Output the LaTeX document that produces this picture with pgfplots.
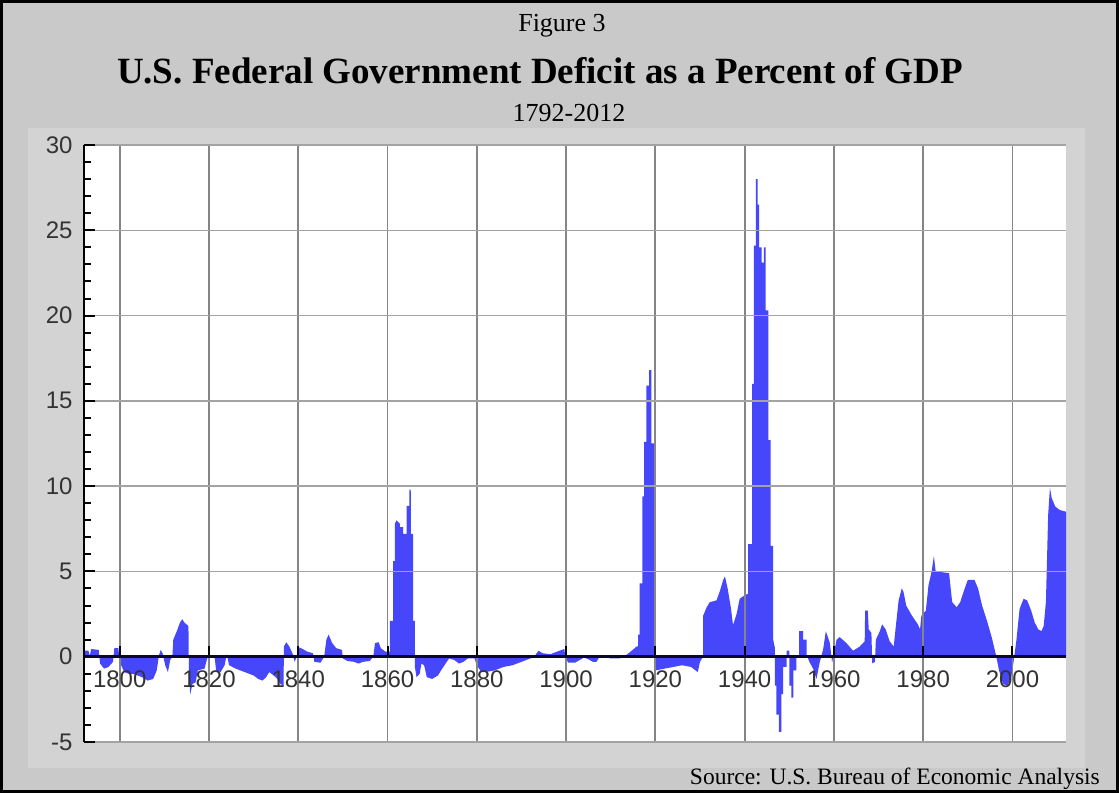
\documentclass[border=0pt]{standalone}
\usepackage{fontspec}
\setmainfont{Liberation Sans}
\newfontfamily\serif{Liberation Serif}
\usepackage{pgfplots}
\pgfplotsset{compat=1.18}
\usepackage{pgfplotstable}

\definecolor{deficit}{RGB}{70,70,250}
\definecolor{outergray}{RGB}{201,201,201}
\definecolor{panelgray}{RGB}{211,211,211}
\definecolor{zeroline}{RGB}{10,10,40}

% deficit as % of GDP (fractional years where the steps fall)
\pgfplotstableread{
year pct
1792.0 0.35
1793.0 0.35
1793.3 0.05
1793.6 0.45
1795.3 0.4
1795.6 -0.4
1796.5 -0.7
1797.5 -0.6
1798.5 -0.3
1798.8 0.5
1799.7 0.5
1800.0 -0.3
1801.0 -0.9
1802.0 -1.0
1803.0 -1.0
1804.0 -1.1
1805.0 -1.2
1806.3 -1.4
1807.5 -1.3
1808.3 -0.8
1808.8 0.1
1809.2 0.4
1809.6 0.2
1810.2 -0.5
1810.8 -0.9
1811.3 -0.2
1811.8 0.0
1812.0 1.0
1812.8 1.5
1813.5 2.0
1814.0 2.2
1814.5 2.0
1815.4 1.8
1815.5 -1.0
1815.8 -2.2
1816.3 -1.6
1817.0 -1.5
1817.5 -0.8
1819.0 -0.7
1819.6 -0.1
1820.5 0.1
1821.3 -0.1
1821.6 -0.8
1822.6 -0.9
1823.5 -0.5
1824.0 0.15
1824.5 -0.5
1826.0 -0.7
1828.0 -0.9
1830.0 -1.1
1831.0 -1.3
1832.0 -1.4
1832.8 -1.2
1833.5 -0.9
1834.5 -1.1
1835.3 -1.3
1836.0 -1.6
1836.7 -1.7
1836.8 0.6
1837.3 0.85
1838.0 0.6
1838.7 0.2
1839.2 -0.3
1839.8 0.1
1840.2 0.55
1841.0 0.45
1842.0 0.3
1843.3 0.2
1843.6 -0.3
1845.0 -0.35
1845.8 0.0
1846.3 1.0
1846.8 1.3
1847.6 0.8
1848.5 0.5
1849.8 0.4
1850.0 -0.1
1851.0 -0.25
1852.5 -0.3
1853.5 -0.4
1854.5 -0.3
1856.0 -0.25
1856.8 0.0
1857.2 0.8
1858.0 0.85
1858.5 0.5
1859.5 0.3
1860.5 0.3
1860.5 2.1
1861.27 2.1
1861.27 5.6
1861.65 5.6
1861.65 7.8
1862.0 8.0
1862.77 7.8
1862.77 7.6
1863.5 7.6
1863.5 7.2
1864.27 7.2
1864.27 8.85
1864.87 8.85
1864.87 9.8
1865.2 9.8
1865.24 7.2
1865.76 7.2
1865.76 2.1
1866.13 2.1
1866.13 -0.6
1866.5 -1.2
1867.2 -1.0
1867.6 -0.4
1868.2 -0.5
1868.8 -1.2
1870.0 -1.3
1871.3 -1.1
1872.0 -0.8
1873.0 -0.4
1873.8 -0.1
1875.0 -0.2
1876.0 -0.4
1877.0 -0.3
1878.0 -0.1
1879.5 -0.1
1880.0 -0.5
1881.0 -0.9
1882.0 -0.9
1884.0 -0.8
1886.0 -0.6
1888.0 -0.5
1890.0 -0.3
1892.0 -0.1
1893.0 0.05
1893.8 0.35
1894.8 0.2
1896.5 0.15
1898.5 0.35
1899.6 0.45
1899.9 -0.1
1900.5 -0.35
1902.0 -0.35
1903.0 -0.2
1904.0 -0.05
1905.0 -0.15
1906.0 -0.3
1906.8 -0.3
1907.5 0.0
1909.0 -0.05
1910.0 -0.1
1912.0 -0.1
1913.0 0.0
1913.5 0.1
1914.7 0.35
1915.8 0.6
1916.15 0.6
1916.15 1.3
1916.5 1.3
1916.5 4.3
1917.1 4.3
1917.1 9.4
1917.5 9.4
1917.5 12.6
1918.0 12.6
1918.0 15.9
1918.6 15.9
1918.6 16.8
1919.1 16.8
1919.1 12.5
1919.9 12.5
1919.9 0.6
1920.1 0.6
1920.1 -0.8
1922.0 -0.7
1924.0 -0.6
1926.0 -0.5
1928.0 -0.6
1929.5 -0.9
1930.0 -0.3
1930.7 0.0
1930.7 2.4
1931.5 2.9
1932.2 3.2
1933.7 3.3
1934.4 3.8
1935.2 4.5
1935.6 4.7
1936.2 4.0
1936.9 2.9
1937.4 1.85
1938.2 2.5
1938.9 3.4
1940.0 3.6
1940.8 3.7
1940.8 6.6
1941.7 6.6
1941.7 16.0
1942.1 16.0
1942.1 24.1
1942.5 24.1
1942.5 28.0
1942.9 28.0
1942.9 26.5
1943.25 26.5
1943.25 24.0
1943.8 24.0
1943.8 23.1
1944.3 23.1
1944.3 24.0
1944.7 24.0
1944.7 20.3
1945.3 20.3
1945.3 12.7
1945.8 12.7
1945.8 6.5
1946.4 6.5
1946.4 1.0
1946.8 0.5
1946.8 -1.7
1947.1 -1.7
1947.1 -3.4
1947.7 -3.4
1947.7 -4.4
1948.25 -4.4
1948.25 -2.2
1948.6 -2.2
1948.6 -0.6
1949.4 -0.6
1949.4 0.35
1950.0 0.35
1950.0 -1.7
1950.5 -1.7
1950.5 -2.4
1950.9 -2.4
1950.9 -0.8
1951.6 -0.8
1951.6 0.1
1952.2 0.1
1952.2 1.5
1953.1 1.5
1953.1 1.0
1953.9 1.0
1953.9 0.1
1954.6 -0.35
1955.35 -0.7
1956.1 -1.3
1956.8 -0.35
1957.6 0.45
1958.2 1.5
1959.1 0.8
1959.6 -0.35
1960.6 1.0
1961.3 1.15
1962.8 0.8
1964.3 0.35
1965.8 0.6
1966.9 0.9
1967.0 2.7
1967.6 2.7
1967.8 1.6
1968.4 1.4
1968.6 -0.4
1969.2 -0.3
1969.4 1.0
1970.3 1.5
1970.8 1.9
1971.6 1.6
1972.5 0.9
1973.4 0.6
1973.8 1.6
1974.5 3.3
1975.2 4.0
1975.6 3.8
1976.2 3.0
1977.5 2.4
1978.8 1.9
1979.3 1.6
1979.6 2.4
1980.6 2.7
1981.2 4.2
1981.9 5.0
1982.4 5.9
1982.8 5.0
1985.8 4.9
1986.5 3.2
1987.5 2.9
1988.3 3.2
1989.3 4.0
1990.0 4.5
1991.5 4.5
1992.3 4.0
1993.2 3.0
1994.3 2.1
1995.4 1.1
1996.3 0.1
1997.0 -0.8
1997.9 -1.6
1998.9 -1.7
1999.8 -1.1
2000.3 -0.2
2000.9 1.0
2001.6 2.8
2002.5 3.4
2003.3 3.3
2004.2 2.7
2005.0 2.0
2005.8 1.6
2006.5 1.5
2007.0 1.8
2007.5 3.2
2008.0 8.3
2008.4 9.9
2008.8 9.3
2009.6 8.8
2010.6 8.6
2012.0 8.5
}\deficitdata

\begin{document}
\begin{tikzpicture}
\useasboundingbox (0pt,0pt) rectangle (1119pt,793pt);
\fill[outergray] (0pt,0pt) rectangle (1119pt,793pt);
\fill[panelgray] (28pt,25pt) rectangle (1085pt,665pt);
\draw[line width=3pt] (1.5pt,1.5pt) rectangle (1117.5pt,791.5pt);

\node[font=\serif\fontsize{26}{30}\selectfont] at (562pt,767pt) {Figure 3};
\node[font=\serif\bfseries\fontsize{37}{42}\selectfont] at (540pt,722pt) {U.S. Federal Government Deficit as a Percent of GDP};
\node[font=\serif\fontsize{26}{30}\selectfont] at (569pt,680pt) {1792-2012};
\node[font=\serif\fontsize{23.5}{28}\selectfont, anchor=base east, inner sep=0pt] at (1100pt,9pt) {Source: U.S. Bureau of Economic Analysis};

\begin{axis}[
    at={(84pt,51pt)}, anchor=south west,
    width=982pt, height=597pt, scale only axis,
    xmin=1792, xmax=2012, ymin=-5, ymax=30,
    axis y line=left, axis x line=middle,
    axis line style={-},
    y axis line style={line width=2pt, black},
    x axis line style={line width=2.5pt, zeroline},
    axis on top,
    axis background/.style={fill=white},
    hide obscured x ticks=false, hide obscured y ticks=false,
    xtick={1800,1820,1840,1860,1880,1900,1920,1940,1960,1980,2000},
    xticklabels={1800,1820,1840,1860,1880,1900,1920,1940,1960,1980,2000},
    ytick={-5,0,5,10,15,20,25,30},
    yticklabels={-5,0,5,10,15,20,25,30},
    minor y tick num=4,
    tick align=inside,
    major tick length=11pt, minor tick length=7pt,
    tick style={black, line width=2pt},
    xmajorgrids, ymajorgrids,
    major x grid style={black!48, line width=1.8pt},
    major y grid style={black!36, line width=1.5pt},
    x tick label style={font=\fontsize{24}{28}\selectfont, text=black!80, yshift=-10pt},
    y tick label style={font=\fontsize{24}{28}\selectfont, text=black!80, xshift=-8pt},
]
\addplot[fill=deficit, draw=none] table[x=year, y=pct]{\deficitdata} \closedcycle;
\end{axis}
\end{tikzpicture}
\end{document}
